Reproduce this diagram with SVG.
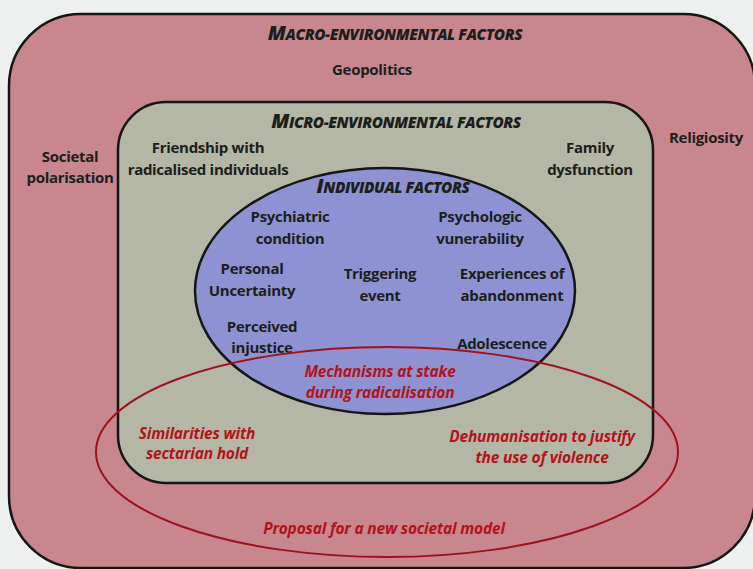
<svg xmlns="http://www.w3.org/2000/svg" width="753" height="569" viewBox="0 0 753 569">
<style>
  .t{font-family:"Open Sans",Lato,"Liberation Sans",sans-serif;font-weight:bold;font-size:15px;fill:#1c1f1c;text-anchor:middle;letter-spacing:-0.3px}
  .h{font-family:"Open Sans",Lato,"Liberation Sans",sans-serif;font-weight:800;font-style:italic;fill:#1c1f1c;text-anchor:middle;letter-spacing:-0.4px}
  .r{font-family:"Open Sans",Lato,"Liberation Sans",sans-serif;font-weight:bold;font-style:italic;font-size:15.5px;fill:#b3141a;text-anchor:middle;letter-spacing:-0.2px}
  .big{font-size:20px}
  .sm{font-size:15.3px}
</style>
<rect width="753" height="569" fill="#eef0ef"/>
<g id="macro">
  <rect x="9" y="14" width="746" height="554" rx="72" ry="72" fill="#c8868f" stroke="#161616" stroke-width="2.5"/>
  <text class="h" x="395" y="40"><tspan class="big">M</tspan><tspan class="sm">ACRO-ENVIRONMENTAL FACTORS</tspan></text>
  <text class="t" x="372" y="75">Geopolitics</text>
  <text class="t" x="70" y="162">Societal</text>
  <text class="t" x="70" y="183">polarisation</text>
  <text class="t" x="706" y="143">Religiosity</text>
</g>
<g id="micro">
  <rect x="118" y="102" width="535" height="381" rx="48" ry="48" fill="#b4b6a6" stroke="#161616" stroke-width="2.5"/>
  <text class="h" x="396" y="128"><tspan class="big">M</tspan><tspan class="sm">ICRO-ENVIRONMENTAL FACTORS</tspan></text>
  <text class="t" x="208" y="153">Friendship with</text>
  <text class="t" x="208" y="175">radicalised individuals</text>
  <text class="t" x="590" y="153">Family</text>
  <text class="t" x="590" y="175">dysfunction</text>
</g>
<g id="individual">
  <ellipse cx="385" cy="291" rx="190" ry="123" fill="#8e92d2" stroke="#161616" stroke-width="2.5"/>
  <text class="h" x="393" y="193"><tspan class="big">I</tspan><tspan class="sm">NDIVIDUAL FACTORS</tspan></text>
  <text class="t" x="290" y="222">Psychiatric</text>
  <text class="t" x="290" y="244">condition</text>
  <text class="t" x="480" y="222">Psychologic</text>
  <text class="t" x="480" y="244">vunerability</text>
  <text class="t" x="252" y="274">Personal</text>
  <text class="t" x="252" y="296">Uncertainty</text>
  <text class="t" x="380" y="279">Triggering</text>
  <text class="t" x="380" y="301">event</text>
  <text class="t" x="512" y="279">Experiences of</text>
  <text class="t" x="512" y="301">abandonment</text>
  <text class="t" x="262" y="332">Perceived</text>
  <text class="t" x="262" y="353">injustice</text>
  <text class="t" x="502" y="349">Adolescence</text>
</g>
<g id="mechanisms">
  <ellipse cx="387" cy="452" rx="291" ry="105" fill="none" stroke="#a0121a" stroke-width="2"/>
  <text class="r" x="380" y="377">Mechanisms at stake</text>
  <text class="r" x="380" y="398">during radicalisation</text>
  <text class="r" x="197" y="439">Similarities with</text>
  <text class="r" x="197" y="459">sectarian hold</text>
  <text class="r" x="542" y="442">Dehumanisation to justify</text>
  <text class="r" x="542" y="463">the use of violence</text>
  <text class="r" x="384" y="534">Proposal for a new societal model</text>
</g>
<g id="connectors"></g>
</svg>
